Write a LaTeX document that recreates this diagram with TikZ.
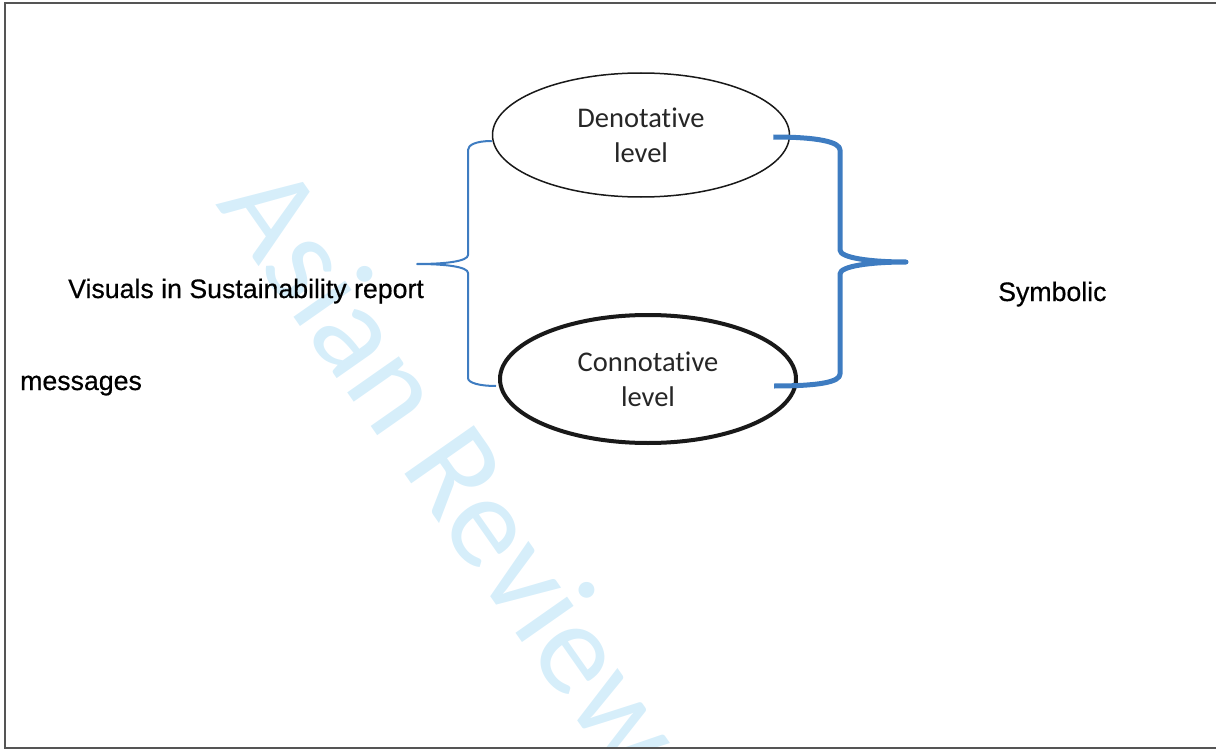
\documentclass[tikz,border=0pt]{standalone}
\usepackage{fontspec}
\setmainfont{Liberation Sans}
\newfontfamily\calibri[Ligatures=NoCommon]{Carlito}
\newfontfamily\arialfont[FakeBold=0.5]{Liberation Sans}
\usepackage{xcolor}
\usetikzlibrary{shapes.geometric}
\definecolor{brace_blue}{HTML}{3E7CC1}
\definecolor{mark_blue}{HTML}{D6EEFA}
\definecolor{frame_gray}{HTML}{555555}

\begin{document}
\begin{tikzpicture}[x=1pt,y=-1pt,
    levelnode/.style={ellipse, draw=black!90, inner sep=0pt, align=center, text=black!85,
        font=\calibri\fontsize{28.5}{35}\selectfont},
    sidetext/.style={anchor=base west, inner sep=0pt, text=black,
        font=\arialfont\fontsize{26.7}{32}\selectfont},
    brace/.style={brace_blue, line join=round},
    watermark/.style={anchor=base west, inner sep=0pt, rotate=-55, text=mark_blue,
        font=\calibri\fontsize{132}{150}\selectfont}]
        \useasboundingbox (0,0) rectangle (1216,749);

        % Filigrane
        \begin{scope}
        \clip (5,3) rectangle (1216,748);
        \node[watermark] (wm) at (215,204) {Asian Review};
        \end{scope}

        % Cadre
        \draw[frame_gray, line width=2pt] (1216,3) -- (5,3) -- (5,748) -- (1216,748);

        % Niveaux
        \node[levelnode, minimum width=297pt, minimum height=124pt, line width=1.5pt] (den) at (641,135) {Denotative\\level};
        \node[levelnode, minimum width=296pt, minimum height=128pt, line width=4pt] (con) at (648,379) {Connotative\\level};

        % Textes
        \node[sidetext] (vis) at (68,298) {Visuals in Sustainability report};
        \node[sidetext] (msg) at (20,390) {messages};
        \node[sidetext] (sym) at (998,301) {Symbolic};

        % Accolade gauche
        \coordinate (ltip) at (417,264);
        \draw[brace, line width=2pt] ([yshift=-6pt]den.west)
            .. controls +(-16,0) and +(0,-5) .. (468,150) -- (468,255)
            .. controls +(0,6) and +(30,0) .. (ltip)
            .. controls +(30,0) and +(0,-6) .. (468,273) -- (468,378)
            .. controls +(0,5) and +(-16,0) .. ([xshift=-2pt,yshift=-7pt]con.west);

        % Accolade droite
        \coordinate (rtip) at (906,262);
        \draw[brace, line width=5pt] ([xshift=-17pt,yshift=-2pt]den.east)
            .. controls +(45,0) and +(0,-8) .. (840,150) -- (840,250)
            .. controls +(0,8) and +(-35,0) .. (rtip)
            .. controls +(-35,0) and +(0,-8) .. (840,274) -- (840,374)
            .. controls +(0,8) and +(45,0) .. ([xshift=-24pt,yshift=-7pt]con.east);
    \end{tikzpicture}
\end{document}
